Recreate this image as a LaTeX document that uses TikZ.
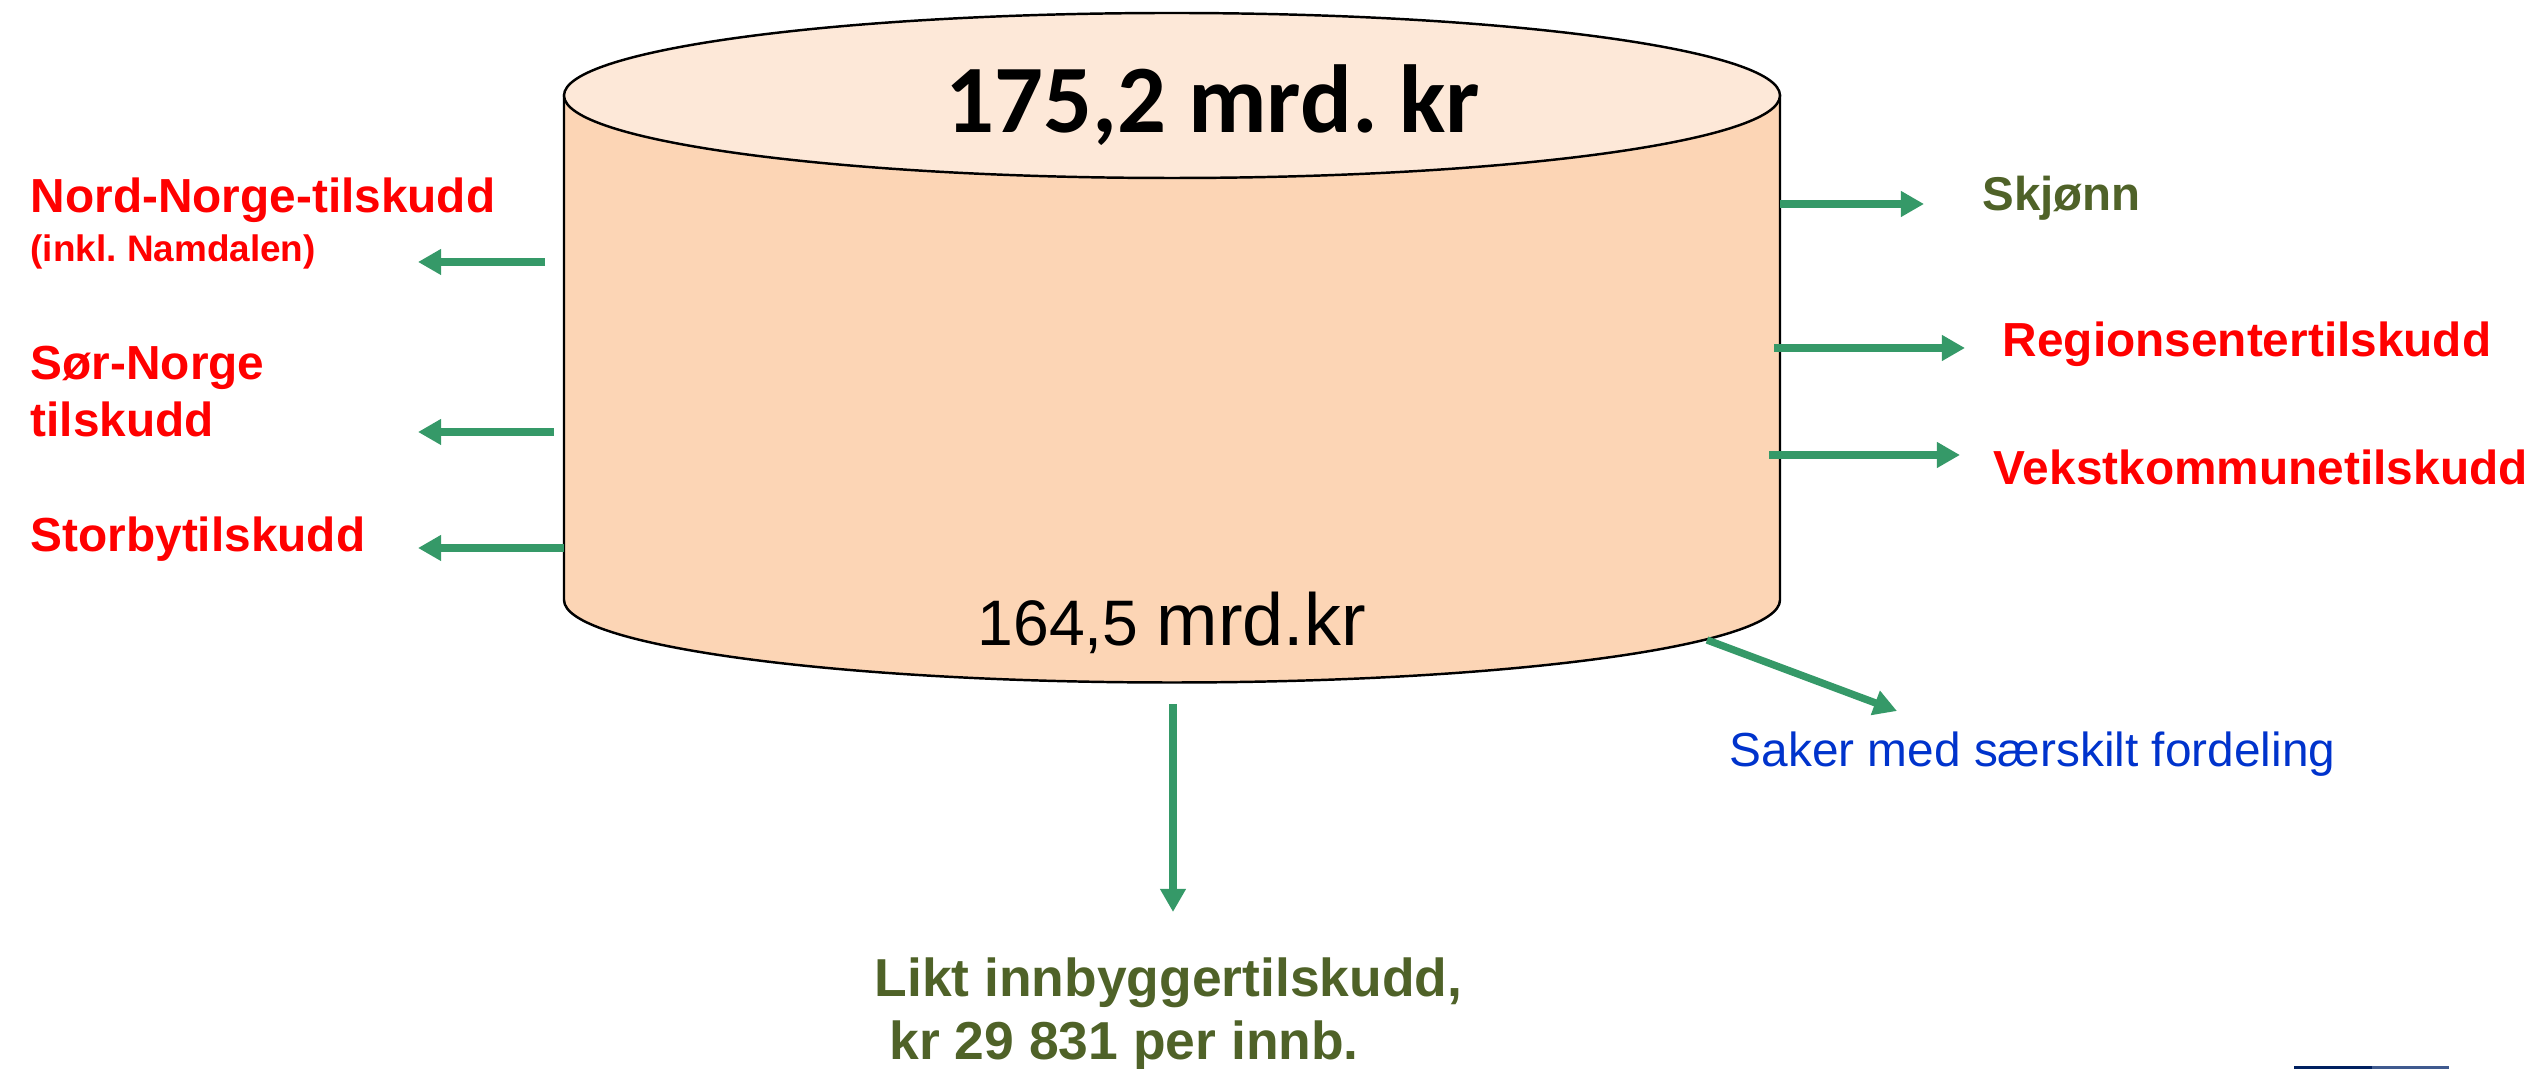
\documentclass[tikz,border=0pt]{standalone}
\usepackage{fontspec}
\setmainfont{Liberation Sans}
\newfontfamily\calibri{Carlito}
\usetikzlibrary{arrows.meta}

\definecolor{pilgreen}{RGB}{53,153,104}
\definecolor{olivetext}{RGB}{79,98,40}
\definecolor{sakerblue}{RGB}{0,51,204}
\definecolor{topfill}{RGB}{253,232,216}
\definecolor{sidefill}{RGB}{252,213,181}
\definecolor{navyline}{RGB}{0,32,96}
\definecolor{greyblue}{RGB}{63,90,143}

\tikzset{
  pil/.style={pilgreen, line width=2.1pt, -{Triangle[length=6.6pt,width=7pt]}},
  redlabel/.style={anchor=base west, inner sep=0pt, text=red, font=\fontsize{13.6}{16}\selectfont\bfseries},
  olivelabel/.style={anchor=base west, inner sep=0pt, text=olivetext, font=\fontsize{13.5}{16}\selectfont\bfseries}
}

\begin{document}
\frenchspacing
\begin{tikzpicture}
  \useasboundingbox (0,0) rectangle (25.42,-10.69);

  % the pot
  \filldraw[fill=sidefill, line width=0.7pt] (5.64,-0.955) -- (5.64,-6.0)
      arc[start angle=180, end angle=360, x radius=6.08, y radius=0.825] -- (17.80,-0.955) -- cycle;
  \filldraw[fill=topfill, line width=0.7pt] (11.72,-0.955) ellipse [x radius=6.08, y radius=0.825];

  \node[anchor=base, inner sep=0pt, font=\calibri\bfseries\fontsize{27.5}{30}\selectfont] (total) at (12.13,-1.33) {175,2 mrd. kr};
  \node[anchor=base west, inner sep=0pt] (rest) at (9.77,-6.46)
      {\fontsize{18.3}{20}\selectfont 164,5 \fontsize{21}{24}\selectfont mrd.kr};

  % left side
  \node[redlabel] (nord) at (0.30,-2.13) {Nord-Norge-tilskudd};
  \node[redlabel, font=\fontsize{10.5}{13}\selectfont\bfseries] (namdal) at (0.30,-2.62) {(inkl. Namdalen)};
  \node[redlabel] (sor) at (0.30,-3.80) {Sør-Norge};
  \node[redlabel] (sortil) at (0.30,-4.37) {tilskudd};
  \node[redlabel] (storby) at (0.30,-5.52) {Storbytilskudd};

  \foreach \name/\y/\x in {nord/2.62/5.45, sor/4.32/5.54, storby/5.48/5.64}{
    \coordinate (\name-from) at (\x,-\y);
    \coordinate (\name-to) at (4.18,-\y);
    \draw[pil] (\name-from) -- (\name-to);
  }

  % right side
  \node[olivelabel] (skjonn) at (19.82,-2.11) {Skjønn};
  \node[redlabel] (region) at (20.02,-3.57) {Regionsentertilskudd};
  \node[redlabel] (vekst) at (19.93,-4.85) {Vekstkommunetilskudd};

  \foreach \name/\y/\x/\t in {skjonn/2.04/17.80/19.24, region/3.48/17.74/19.65, vekst/4.55/17.69/19.60}{
    \coordinate (\name-from) at (\x,-\y);
    \coordinate (\name-to) at (\t,-\y);
    \draw[pil] (\name-from) -- (\name-to);
  }

  \coordinate (saker-from) at (17.07,-6.40);
  \coordinate (saker-to) at (18.97,-7.11);
  \draw[pil] (saker-from) -- (saker-to);
  \node[anchor=base west, inner sep=0pt, text=sakerblue, font=\fontsize{13.6}{16}\selectfont] (saker) at (17.29,-7.67) {Saker med særskilt fordeling};

  % down
  \coordinate (likt-from) at (11.73,-7.04);
  \coordinate (likt-to) at (11.73,-9.12);
  \draw[pil] (likt-from) -- (likt-to);
  \node[olivelabel, font=\fontsize{15.2}{17}\selectfont\bfseries] (likt) at (8.74,-9.97) {Likt innbyggertilskudd,};
  \node[olivelabel, font=\fontsize{15.2}{17}\selectfont\bfseries] (perinnb) at (8.89,-10.60) {kr 29 831 per innb.};

  \fill[navyline] (22.94,-10.66) rectangle (23.72,-10.69);
  \fill[greyblue] (23.72,-10.66) rectangle (24.49,-10.69);
\end{tikzpicture}
\end{document}
